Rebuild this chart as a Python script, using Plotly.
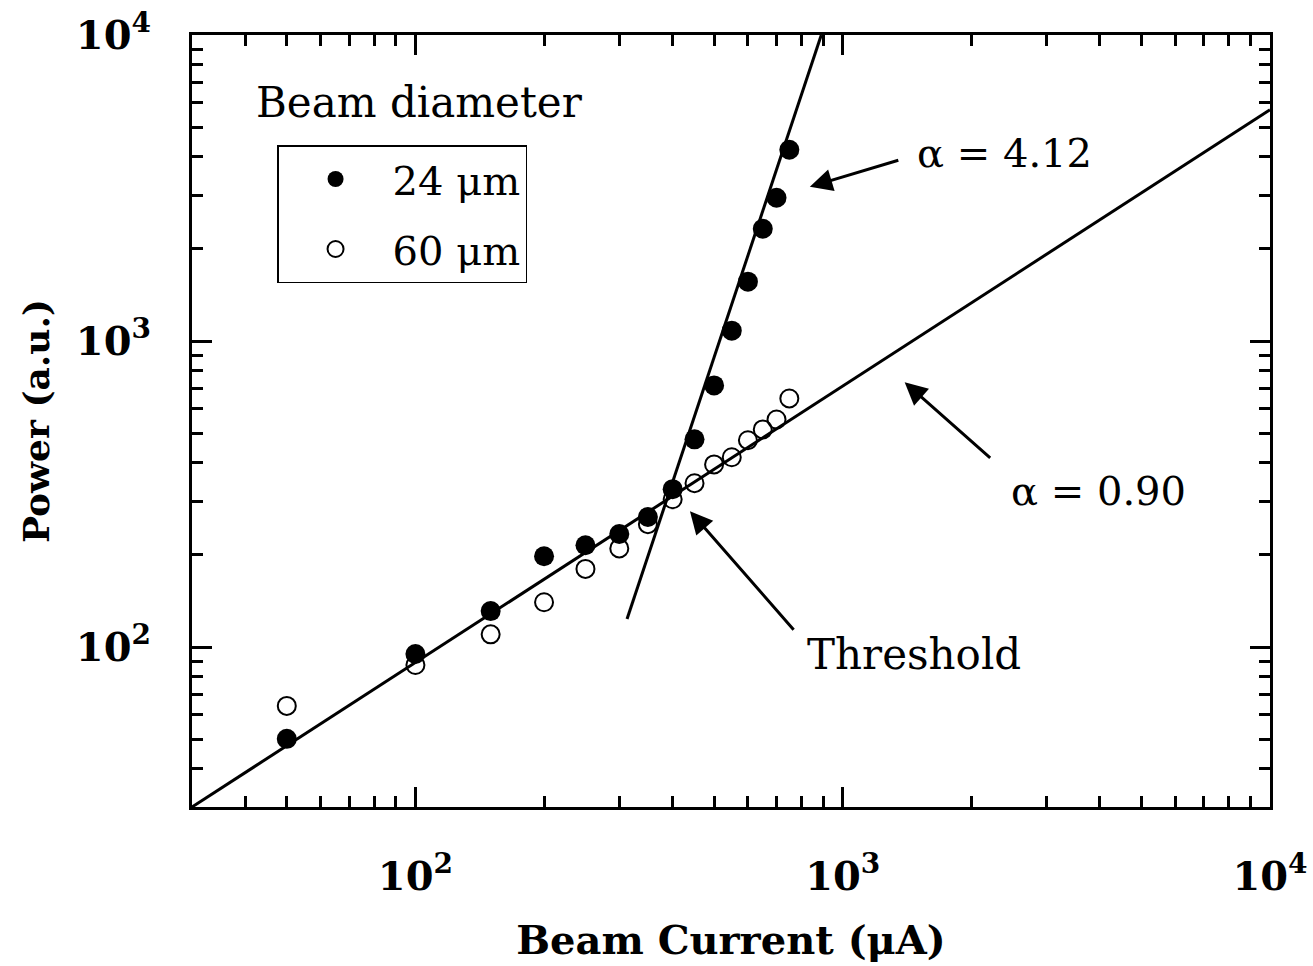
import plotly.graph_objects as go
import math

# ---- data ----
current_uA = [50, 100, 150, 200, 250, 300, 350, 400, 450, 500, 550, 600, 650, 700, 750]
power_24um = [50.1, 94.9, 131, 198, 215, 234, 266, 328, 477, 716, 1081, 1563, 2328, 2938, 4217]
power_60um = [64.2, 87.3, 110, 140, 180, 210, 252, 304, 343, 395, 417, 474, 514, 554, 649]

# fitted power-law lines (end points)
fit_low_x = [30, 10000]
fit_low_y = [30, 5700]
fit_high_x = [312.8, 891]
fit_high_y = [123.4, 10000]

major_ticks = [100, 1000, 10000]
major_labels = ["10<sup>2</sup>", "10<sup>3</sup>", "10<sup>4</sup>"]
minor_ticks = [m * d for d in [10, 100, 1000] for m in range(2, 10) if m * d >= 30]

FONT = "DejaVu Serif"

fig = go.Figure()
fig.add_trace(go.Scatter(x=fit_low_x, y=fit_low_y, mode="lines",
                         line=dict(color="black", width=3), showlegend=False, hoverinfo="skip"))
fig.add_trace(go.Scatter(x=fit_high_x, y=fit_high_y, mode="lines",
                         line=dict(color="black", width=3), showlegend=False, hoverinfo="skip"))
fig.add_trace(go.Scatter(x=current_uA, y=power_24um, mode="markers", name="24 μm",
                         legendgroup="a",
                         marker=dict(symbol="circle", size=20, color="black")))
fig.add_trace(go.Scatter(x=current_uA, y=power_60um, mode="markers", name="60 μm",
                         legendgroup="b",
                         marker=dict(symbol="circle-open", size=18, color="black",
                                     line=dict(width=2, color="black"))))

axis_common = dict(
    type="log",
    range=[math.log10(30), 4],
    tickmode="array",
    tickvals=major_ticks,
    ticktext=major_labels,
    ticks="inside",
    ticklen=20,
    tickwidth=2.5,
    tickcolor="black",
    showline=True,
    linewidth=3,
    linecolor="black",
    mirror="ticks",
    showgrid=False,
    zeroline=False,
    automargin=False,
    ticklabeloverflow="allow",
    tickfont=dict(family=FONT, size=40, color="black", weight="bold"),
    minor=dict(tickmode="array", tickvals=minor_ticks, ticks="inside",
               ticklen=11, tickwidth=2.5, tickcolor="black", showgrid=False),
)

fig.update_layout(
    width=1313, height=966,
    margin=dict(l=192, r=43, t=35, b=159),
    paper_bgcolor="white", plot_bgcolor="white",
    font=dict(family=FONT, color="black"),
    xaxis=dict(axis_common,
               ticklabelstandoff=32,
               title=dict(text="Beam Current (μA)", standoff=28,
                          font=dict(family=FONT, size=40, color="black", weight="bold"))),
    yaxis=dict(axis_common,
               ticklabelstandoff=30,
               title=dict(text="Power (a.u.)", standoff=16,
                          font=dict(family=FONT, size=36, color="black", weight="bold"))),
    legend=dict(x=0.0789, y=0.8575, xanchor="left", yanchor="top",
                bordercolor="black", borderwidth=1.5, bgcolor="white",
                font=dict(family=FONT, size=40, color="black"),
                itemwidth=104, tracegroupgap=15, traceorder="grouped",
                itemsizing="trace"),
    showlegend=True,
)

annots = [
    dict(x=1.6215, y=3.778, text="Beam diameter", size=42),
    dict(x=3.168, y=3.615, text="α = 4.12", size=40),
    dict(x=3.390, y=2.509, text="α = 0.90", size=40),
    dict(x=2.911, y=1.974, text="Threshold", size=42),
]
for a in annots:
    fig.add_annotation(x=a["x"], y=a["y"], xref="x", yref="y", text=a["text"],
                       showarrow=False, xanchor="left", yanchor="middle",
                       font=dict(family=FONT, size=a["size"], color="black"))

arrows = [
    dict(x=2.923, y=3.504, ax=90, ay=-27),
    dict(x=3.145, y=2.865, ax=87, ay=77),
    dict(x=2.6425, y=2.444, ax=105, ay=120),
]
for a in arrows:
    fig.add_annotation(x=a["x"], y=a["y"], xref="x", yref="y", text="",
                       showarrow=True, ax=a["ax"], ay=a["ay"],
                       arrowhead=2, arrowsize=1.5, arrowwidth=3, arrowcolor="black",
                       standoff=0, startstandoff=0)

# remove the default 8px page margin so the figure fills the window exactly
fig.write_html("out.html",
               config={"displayModeBar": False},
               post_script="document.body.style.margin='0';document.body.style.overflow='hidden';")
